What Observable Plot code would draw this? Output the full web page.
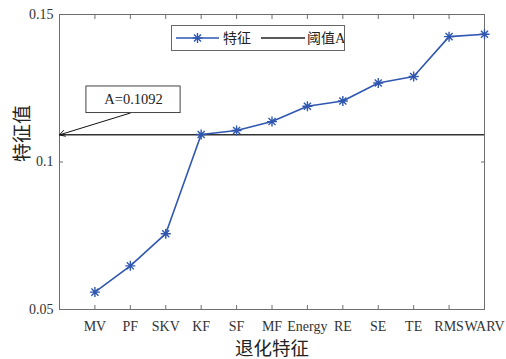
<!DOCTYPE html>
<html>
<head>
<meta charset="utf-8">
<script src="https://cdn.jsdelivr.net/npm/d3@7"></script>
<script src="https://cdn.jsdelivr.net/npm/@observablehq/plot@0.6"></script>
<style>
  body { margin: 0; background: #fff; }
  #wrap { position: relative; width: 506px; height: 359px; }
  #legend {
    position: absolute; left: 171px; top: 25px; width: 172px; height: 24px;
    border: 1px solid #666; background: #fff; box-sizing: content-box;
  }
  #legend svg { display: block; }
</style>
</head>
<body>
<div id="wrap"></div>
<script>
// Degradation features, sorted by their feature value
const categories = ["MV", "PF", "SKV", "KF", "SF", "MF", "Energy", "RE", "SE", "TE", "RMS", "WARV"];
const featureValues = [0.0559, 0.0648, 0.0757, 0.1093, 0.1107, 0.1137, 0.1189, 0.1207, 0.1268, 0.1290, 0.1425, 0.1433];
const thresholdA = 0.1092;
const yTicks = [0.05, 0.1, 0.15];
const seriesName = "特征";
const thresholdName = "阈值";
const thresholdSuffix = "A";
const xTitle = "退化特征";
const yTitle = "特征值";
const calloutText = "A=" + thresholdA;

const blue = "#2f57b0";
const serif = "'Liberation Serif', 'Times New Roman', serif";
const cjk = "'Noto Sans CJK SC', sans-serif";

// eight-armed asterisk marker
const asterisk = {
  draw(context, size) {
    const r = Math.sqrt(size / Math.PI);
    for (let k = 0; k < 4; k++) {
      const a = (k * Math.PI) / 4;
      const dx = r * Math.cos(a), dy = r * Math.sin(a);
      context.moveTo(-dx, -dy);
      context.lineTo(dx, dy);
    }
  }
};

const data = categories.map((name, i) => ({name, idx: i + 1, value: featureValues[i]}));
const xTicks = data.map(d => d.idx);

// callout box placement (in data units) and the arrow pointing at the threshold line
const callout = {x1: 0.76, x2: 3.42, y1: 0.1166, y2: 0.1256, tx: 2.09, ty: 0.1211};
const arrowFrom = {x: 2.0, y: 0.1166};

const chart = Plot.plot({
  width: 506,
  height: 359,
  marginLeft: 59,
  marginRight: 22,
  marginTop: 14,
  marginBottom: 50,
  style: {fontFamily: serif, background: "#fff", overflow: "visible"},
  x: {domain: [0, categories.length]},
  y: {domain: [0.05, 0.15]},
  marks: [
    Plot.frame({stroke: "#6e6e6e", strokeWidth: 1}),
    // inward ticks on all four sides
    Plot.axisX(xTicks, {anchor: "bottom", tickSize: -4, tickFormat: () => "", stroke: "#6e6e6e", label: null}),
    Plot.axisX(xTicks, {anchor: "top", tickSize: -4, tickFormat: () => "", stroke: "#6e6e6e", label: null}),
    Plot.axisY(yTicks, {anchor: "left", tickSize: -4, tickFormat: () => "", stroke: "#6e6e6e", label: null}),
    Plot.axisY(yTicks, {anchor: "right", tickSize: -4, tickFormat: () => "", stroke: "#6e6e6e", label: null}),
    // tick labels
    Plot.axisX(xTicks, {anchor: "bottom", tickSize: 0, tickPadding: 11.5, tickFormat: i => categories[i - 1],
      fontSize: 14, fill: "#333", label: null}),
    Plot.axisY(yTicks, {anchor: "left", tickSize: 0, tickPadding: 6, tickFormat: d => String(d),
      fontSize: 14, fill: "#333", label: null}),
    // axis titles
    Plot.text([xTitle], {frameAnchor: "bottom", dy: 45, fontSize: 18.5, fontFamily: cjk, fill: "#222"}),
    Plot.text([yTitle], {frameAnchor: "left", dx: -37, rotate: -90, fontSize: 19, fontFamily: cjk, fill: "#222"}),
    // threshold A
    Plot.ruleY([thresholdA], {stroke: "#333", strokeWidth: 1.5}),
    // feature curve
    Plot.line(data, {x: "idx", y: "value", stroke: blue, strokeWidth: 1.6}),
    Plot.dot(data, {x: "idx", y: "value", symbol: asterisk, r: 5, stroke: blue, strokeWidth: 1.4, fill: "none"}),
    // callout
    Plot.arrow([{x1: arrowFrom.x, y1: arrowFrom.y, x2: 0, y2: thresholdA}],
      {x1: "x1", y1: "y1", x2: "x2", y2: "y2", stroke: "#111", strokeWidth: 1, headLength: 9}),
    Plot.rect([callout], {x1: "x1", x2: "x2", y1: "y1", y2: "y2", fill: "#fff", stroke: "#444", strokeWidth: 1}),
    Plot.text([calloutText], {x: callout.tx, y: callout.ty, fontSize: 14.5, fill: "#222"})
  ]
});

const wrap = document.getElementById("wrap");
wrap.appendChild(chart);

// legend box inside the plot area
const cjkAttr = cjk.replace(/'/g, "&quot;");
const serifAttr = serif.replace(/'/g, "&quot;");
const legend = document.createElement("div");
legend.id = "legend";
legend.innerHTML = `
<svg width="172" height="24" xmlns="http://www.w3.org/2000/svg">
  <line x1="4" x2="47" y1="12" y2="12" stroke="${blue}" stroke-width="1.6"/>
  <g stroke="${blue}" stroke-width="1.4" transform="translate(25.5,12)">
    <line x1="-5" y1="0" x2="5" y2="0"/><line x1="0" y1="-5" x2="0" y2="5"/>
    <line x1="-3.5" y1="-3.5" x2="3.5" y2="3.5"/><line x1="-3.5" y1="3.5" x2="3.5" y2="-3.5"/>
  </g>
  <text x="51" y="17" font-family="${cjkAttr}" font-size="14" fill="#222">${seriesName}</text>
  <line x1="89" x2="133" y1="12" y2="12" stroke="#222" stroke-width="1.5"/>
  <text x="135" y="17" font-family="${cjkAttr}" font-size="14" fill="#222">${thresholdName}<tspan font-family="${serifAttr}" font-size="14.5">${thresholdSuffix}</tspan></text>
</svg>`;
wrap.appendChild(legend);
</script>
</body>
</html>
